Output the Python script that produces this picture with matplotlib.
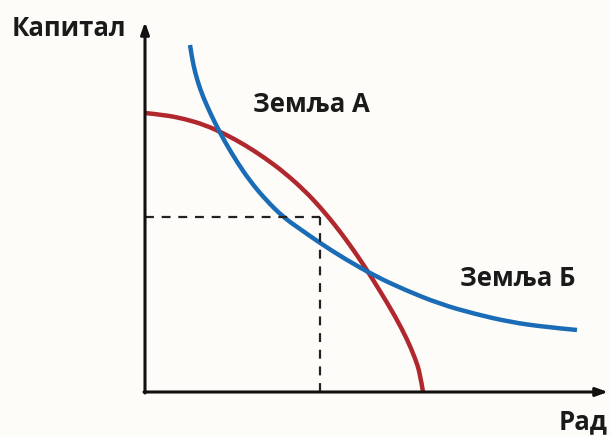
import matplotlib
matplotlib.use('Agg')
import matplotlib.pyplot as plt
from matplotlib.path import Path
from matplotlib.patches import PathPatch

# Country A curve (red), country B curve (blue)
red_x = [0, 20, 40, 60, 80, 100, 120, 140, 160, 175, 190, 205, 220, 235, 250, 262, 270, 275, 278]
red_y = [279, 277, 273, 267, 258, 247, 234, 219, 201, 185, 167, 147, 125, 101, 76, 53, 34, 19, 0]

blue_x = [45, 47, 50, 55, 62, 70, 80, 92, 105, 120, 138, 155, 175, 200, 230, 260, 295, 330, 365, 400, 432]
blue_y = [347, 334, 320, 303, 286, 269, 250, 230, 211, 193, 175, 163, 149, 133, 116, 102, 88, 78, 70, 65, 62]

# dashed point
point_x = 175
point_y = 175

x_max = 463
y_max = 370

labels = {'y': 'Капитал', 'x': 'Рад', 'a': 'Земља А', 'b': 'Земља Б'}


def smooth_path(xs, ys):
    # quadratic bezier through midpoints, read points act as control points
    pts = list(zip(xs, ys))
    verts = [pts[0]]
    codes = [Path.MOVETO]
    for i in range(1, len(pts) - 1):
        mid = ((pts[i][0] + pts[i + 1][0]) / 2, (pts[i][1] + pts[i + 1][1]) / 2)
        if i == len(pts) - 2:
            mid = pts[-1]
        verts += [pts[i], mid]
        codes += [Path.CURVE3, Path.CURVE3]
    return Path(verts, codes)


plt.rcParams['font.family'] = ['Open Sans', 'DejaVu Sans']

fig = plt.figure(figsize=(6.11, 4.36), dpi=100)
fig.patch.set_facecolor('#fdfcf9')
ax = fig.add_axes([145 / 611, 44 / 436, 463 / 611, 370 / 436])
ax.set_xlim(0, x_max)
ax.set_ylim(0, y_max)
ax.axis('off')

# Axes with arrows
arrow = dict(arrowstyle='-|>,head_length=0.7,head_width=0.25', color='#111111', lw=2.2,
             shrinkA=0, shrinkB=0)
ax.annotate('', xy=(x_max, 0), xytext=(-1, 0), arrowprops=arrow, annotation_clip=False)
ax.annotate('', xy=(0, y_max), xytext=(0, -1), arrowprops=arrow, annotation_clip=False)

# Dashed guide lines
ax.plot([0, point_x], [point_y, point_y], ls=(0, (4, 3.5)), color='#222222', lw=1.6)
ax.plot([point_x, point_x], [0, point_y], ls=(0, (4, 3.5)), color='#222222', lw=1.6)

# Curves
ax.add_patch(PathPatch(smooth_path(red_x, red_y), fill=False, edgecolor='#b0282e',
                       lw=3.2, capstyle='butt', clip_on=False))
ax.add_patch(PathPatch(smooth_path(blue_x, blue_y), fill=False, edgecolor='#1b6cb6',
                       lw=3.2, capstyle='butt', clip_on=False))

# Labels
txt = dict(fontsize=18.5, fontweight='bold', color='#1a1a1a', ha='center', va='center')
ax.text(-76, 364, labels['y'], **txt, clip_on=False)
ax.text(438, -30, labels['x'], **txt, clip_on=False)
ax.text(166, 288, labels['a'], **txt)
ax.text(373, 113, labels['b'], **txt)

plt.savefig('out.png', dpi=100, facecolor=fig.get_facecolor())
